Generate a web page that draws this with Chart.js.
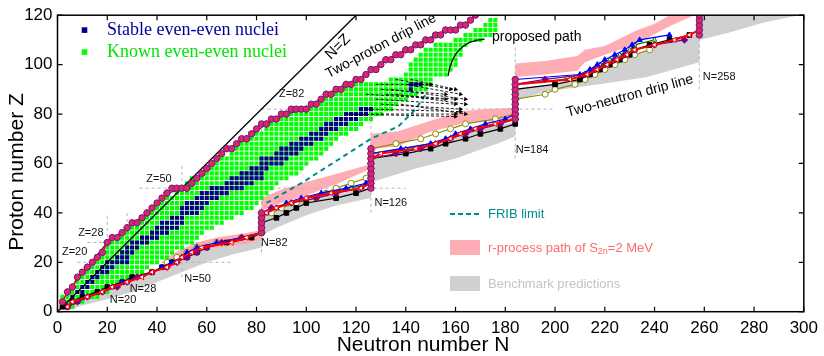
<!DOCTYPE html>
<html>
<head>
<meta charset="utf-8">
<script src="https://cdn.jsdelivr.net/npm/chart.js@4.4.1/dist/chart.umd.min.js"></script>
<style>
  html, body { margin: 0; padding: 0; background: #fff; }
  canvas { display: block; }
</style>
</head>
<body>
<canvas id="nucChart" width="824" height="356"></canvas>
<script>
// Known even-even nuclei: N range for each even Z
const knownZ   = [2,4,6,8,10,12,14,16,18,20,22,24,26,28,30,32,34,36,38,40,42,44,46,48,50,52,54,56,58,60,62,64,66,68,70,72,74,76,78,80,82,84,86,88,90,92,94,96,98,100,102,104,106,108,110,112,114,116,118];
const knownMin = [2,2,2,4,6,8,8,10,12,14,16,18,20,20,24,26,30,32,34,38,40,42,44,48,50,52,54,58,62,64,66,70,72,74,78,80,84,86,88,92,96,102,106,112,116,120,134,140,142,142,144,146,148,152,160,164,168,172,174];
const knownMax = [6,10,16,20,24,28,30,34,36,40,44,46,50,54,56,58,62,66,70,74,78,80,82,84,86,88,92,96,98,100,104,106,108,110,112,116,120,122,126,130,134,136,140,144,148,150,150,156,158,160,160,162,162,164,170,174,176,176,176];

// Stable even-even nuclei
const stableZ   = [2,6,8,10,12,14,16,18,20,22,24,26,28,30,32,34,36,38,40,42,44,46,48,50,52,54,56,58,60,62,64,66,68,70,72,74,76,78,80,82,90,92];
const stableMin = [2,6,8,10,12,14,16,18,20,24,26,28,30,34,38,40,42,46,50,50,52,56,58,62,68,70,74,78,82,82,88,90,94,98,102,106,108,112,116,122,142,142];
const stableMax = [2,6,10,12,14,16,20,22,28,28,30,32,36,40,44,48,50,50,56,58,60,64,68,74,78,82,82,84,90,92,96,98,102,106,108,112,116,120,124,126,142,146];

// Two-neutron drip lines, N for each even Z (null = not computed)
const dripZ = [2,4,6,8,10,12,14,16,18,20,22,24,26,28,30,32,34,36,38,40,42,44,46,48,50,52,54,56,58,60,62,64,66,68,70,72,74,76,78,80,82,84,86,88,90,92,94,96,98,100,102,104,106,108,110,112,114,116,118,120];
const nRed    = [4,6,12,18,22,28,34,38,44,48, 50,54,58,70,76,82,82,82,82,84, 88,94,100,110,122,126,126,126,126,126, 126,130,144,152,158,162,168,176,184,184, 184,184,184,184,184,184,206,213,217,221, 225,229,232,240,248,254,258,258,258,258];
const nBlue   = [4,8,12,18,22,26,32,38,42,46, 50,52,56,64,74,82,82,82,82,84, 88,92,98,106,116,124,126,126,126,126, 126,126,138,150,156,160,166,172,180,184, 184,184,184,184,184,184,184,210,214,217, 220,224,228,231,234,246,null,null,null,null];
const nBlack  = [4,6,10,16,20,26,30,38,42,46, 52,56,60,68,78,82,82,82,88,92, 96,100,112,120,126,126,126,126,126,126, 126,140,150,156,164,170,178,184,184,184, 184,184,184,184,184,200,210,214,218,222, 226,230,232,238,246,254,258,258,258,258];
const nOlive  = [null,null,null,null,null,null,null,null,null,44, 48,52,56,64,74,82,82,82,82,86, 90,96,104,108,112,118,124,126,126,126, 126,126,126,136,146,152,158,164,176,184, 184,184,184,196,200,208,212,216,220,224, 228,232,238,null,null,null,null,null,null,null];
const nPurple = [4,8,12,18,24,28,32,38,44,48, 52,56,60,66,74,82,82,82,82,82, 86,94,104,112,122,126,126,126,126,126, 126,136,146,152,158,164,170,178,184,184, 184,184,184,184,184,184,196,212,216,220, 224,228,232,240,252,null,null,null,null,null];
const nGreen  = [4,8,12,18,22,28,32,38,42,48, 50,54,58,68,76,82,82,82,82,84, 88,94,100,108,118,126,126,126,126,126, 126,126,140,150,156,162,168,176,184,184, 184,184,184,184,184,184,204,210,214,218, 222,226,230,232,240,null,null,null,null,null];
const circN = [82,82,82,82,82, 126,126,126,126,126,126,126,126,126, 184,184,184,184,184,184,184,184,184, 258,258,258,258,258];
const circZ = [32,34,36,38,40, 50,52,54,56,58,60,62,64,66, 78,80,82,84,86,88,90,92,94, 112,114,116,118,120];

// Two-proton drip line
const pDripN = [2,4,6,8,10,12,14,16,18,20,22,24,26,28,30,32,34,36,38,40,42,44,46,48,50,52,54,56,58,60,62,64,66,68,70,72,74,76,78,80,82,84,86,88,90,92,94,96,98,100,102,104,106,108,110,112,114,116,118,120,122,124,126,128,130,132,134,136,138,140,142,144,146,148,150,152,154,156,158,160,162,164,166,168];
const pDripZ = [4,8,10,14,16,18,20,22,24,28,30,30,32,34,36,36,38,40,42,44,46,48,50,50,50,50,52,54,56,58,60,62,64,66,66,68,70,70,72,74,76,76,78,78,80,80,82,82,82,82,84,84,86,88,88,90,90,92,92,94,94,96,98,98,100,102,102,104,104,106,106,108,108,110,110,112,112,114,114,114,116,116,118,120];
const pStarN = [4,12,20,28,36,44,52,60,68,76,84,92,100,108,116,124,132,140,148,156,164];
const pStarZ = [8,18,28,34,40,48,50,58,66,70,76,80,82,88,92,96,102,106,110,114,116];
const pBlackN = [2,10,18,34,58,76,92,112,128,146,152];
const pBlackZ = [2,16,24,38,56,70,80,90,98,108,112];
const pBlueN = [16,22,60,98,118,142,158];
const pBlueZ = [22,30,58,82,92,106,114];

// Bands
const greyN = [2,12,20,30,40,50,58,70,80,82,82,90,100,112,124,126,126,140,152,166,178,184,184,196,208,216,230,246,256,258,258,300,300,298,284,270,258,258,237,224,196,186,184,184,178,160,144,128,126,126,112,100,88,84,82,82,70,60,50,40,30,20,10,4];
const greyZ = [2,6,9,12.5,16,20.5,25,27.5,31,32,40,42.5,45.5,47.5,50,51,63,63.5,67.5,73.5,75.5,77,90,91.5,93,96.5,103.5,109.5,112,113,120,120,120,120,117,113,110,101,95,93,89,86,84,71,68.5,62,58,53,52,46,43,39,34,32,30,26,23,20,16,12,8,5,2.5,0.5];
const pinkN = [44,50,56,64,74,82,82,90,100,113,125,126,137,149,162,172,184,184,196,209,212,220,232,240,246,256,246,232,220,212,209,196,184,184,170,162,149,137,128,126,113,100,90,82,82,74,64,56,50,44];
const pinkZ = [22,25.5,28,30,31.5,33,46,49.5,52.5,56,59.5,72,73,77,81,82,82.5,100.5,101.5,103.5,106,107.5,113.5,116.5,120,120,115.5,108,104,101,97.5,96,95,77,77,76,72.5,67,66,58,52,47,44,41,29,27,26,24,21.5,20];

// FRIB limit
const fribN = [84,98,112,126,137,144,148];
const fribZ = [44,52,61,70,75,82,88];

// Magic numbers
const magicZ = [20,28,50,82];
const magicZFromN = [8,12,33,82];
const magicZToN = [70,76,140,200];
const magicN = [20,28,50,82,126,184,258];
const magicNFromZ = [6,12,14,24,40,62,90];
const magicNToZ = [40,40,59,76,90,107,120];
const magicLabels = ['Z=20','Z=28','Z=50','Z=82','N=20','N=28','N=50','N=82','N=126','N=184','N=258'];
const magicLabelN = [1.8,8.3,35.7,89,21,29,51,81.8,127.4,184.2,259.4];
const magicLabelZ = [24,32,53.8,88,4.7,9.4,13.4,28,43.9,65.5,95];

// Proposed path arrows
const arrowN0 = [128,130,132,128,130,124,126,136,140,134,116,136,142,124,138];
const arrowZ0 = [92,90,88,86,84,82,80,94,92,90,80,88,94,88,84];
const arrowN1 = [150,156,160,160,162,162,160,158,162,164,160,164,160,156,164];
const arrowZ1 = [92,88,86,84,82,81,80,90,88,86,79,84,90,86,80];
const curveN = [171.7,159,157];
const curveZ = [110.3,109.5,95.4];

const FONT = '"Liberation Sans", Arial, sans-serif';

function pairs(ns, zs) {
    return ns.map((n, i) => ({ x: n, y: zs[i] }));
}
function dripPts(ns) {
    return ns.map((n, i) => n == null ? null : { x: n, y: dripZ[i] }).filter(p => p);
}
function rangePts(zs, mins, maxs) {
    const pts = [];
    zs.forEach((z, i) => {
        for (let n = mins[i]; n <= maxs[i]; n += 2) pts.push({ x: n, y: z });
    });
    return pts;
}

function lineSet(data, color, style, extra) {
    return Object.assign({
        data: data, showLine: true, borderColor: color, borderWidth: 1.2,
        pointStyle: style, pointRadius: 3, pointBackgroundColor: color,
        pointBorderColor: color, pointBorderWidth: 1
    }, extra || {});
}

const datasets = [];

datasets.push({ data: pairs(greyN, greyZ), showLine: true, fill: 'shape', backgroundColor: '#d0d0d0', borderWidth: 0, pointRadius: 0, order: 100 });
datasets.push({ data: pairs(pinkN, pinkZ), showLine: true, fill: 'shape', backgroundColor: '#ffadb5', borderWidth: 0, pointRadius: 0, order: 95 });

magicZ.forEach((z, i) => datasets.push({
    data: [{ x: magicZFromN[i], y: z }, { x: magicZToN[i], y: z }], showLine: true,
    borderColor: '#b4b4b4', borderWidth: 1, borderDash: [3, 3], pointRadius: 0, order: 90
}));
magicN.forEach((n, i) => datasets.push({
    data: [{ x: n, y: magicNFromZ[i] }, { x: n, y: magicNToZ[i] }], showLine: true,
    borderColor: '#b4b4b4', borderWidth: 1, borderDash: [3, 3], pointRadius: 0, order: 90
}));

datasets.push({ data: rangePts(knownZ, knownMin, knownMax), pointStyle: 'rect', pointRadius: 2.9, pointBackgroundColor: '#00ff00', pointBorderWidth: 0, order: 85 });
datasets.push({ data: rangePts(stableZ, stableMin, stableMax), pointStyle: 'rect', pointRadius: 2.9, pointBackgroundColor: '#000080', pointBorderWidth: 0, order: 80 });

datasets.push({ data: [{ x: 0, y: 0 }, { x: 120, y: 120 }], showLine: true, borderColor: '#000', borderWidth: 1.3, pointRadius: 0, order: 75 });
datasets.push({ data: pairs(fribN, fribZ), showLine: true, borderColor: '#008b8b', borderWidth: 2, borderDash: [5, 4], pointRadius: 0, order: 70 });

arrowN0.forEach((n, i) => {
    const dx = arrowN1[i] - n, dz = arrowZ1[i] - arrowZ0[i];
    datasets.push({
        data: [{ x: n, y: arrowZ0[i] }, { x: arrowN1[i], y: arrowZ1[i] }], showLine: true,
        borderColor: '#000', borderWidth: 0.9, borderDash: [3, 2],
        pointStyle: 'triangle', pointRadius: [0, 2.6], pointRotation: Math.atan2(dx, dz) * 180 / Math.PI,
        pointBackgroundColor: '#000', pointBorderWidth: 0, order: 65
    });
});

// neutron side models
datasets.push(lineSet(dripPts(nOlive), '#8b8b00', 'circle', { pointBackgroundColor: '#fff', order: 40 }));
datasets.push(lineSet(dripPts(nGreen), '#008000', 'triangle', { pointBackgroundColor: '#fff', pointRadius: 2.5, order: 38 }));
datasets.push(lineSet(dripPts(nBlack), '#000000', 'rect', { pointRadius: 3.3, order: 36 }));
datasets.push(lineSet(dripPts(nBlue), '#0000ff', 'triangle', { order: 34 }));
datasets.push(lineSet(dripPts(nPurple), '#800080', 'rectRot', { pointRadius: 3.3, order: 32 }));
datasets.push(lineSet(dripPts(nRed), '#ff0000', 'triangle', { borderWidth: 2, pointBackgroundColor: '#fff', pointRotation: -90, order: 30 }));
datasets.push({ data: pairs(circN, circZ), pointStyle: 'circle', pointRadius: 3.2, pointBackgroundColor: '#d8286a', pointBorderColor: '#7a1a7a', pointBorderWidth: 1, order: 20 });

// proton side
datasets.push(lineSet(pairs(pBlueN, pBlueZ), '#0000ff', 'triangle', { showLine: false, order: 28 }));
datasets.push(lineSet(pairs(pBlackN, pBlackZ), '#000000', 'rect', { showLine: false, pointRadius: 3.3, order: 26 }));
datasets.push(lineSet(pairs(pStarN, pStarZ), '#800080', 'rectRot', { pointRadius: 3.5, order: 24 }));
datasets.push(lineSet(pairs(pDripN, pDripZ), '#ff0000', 'circle', { borderWidth: 1.5, pointRadius: 3.2, pointBackgroundColor: '#d8286a', pointBorderColor: '#7a1a7a', order: 22 }));

const decorPlugin = {
    id: 'decor',
    afterDraw(chart) {
        const { ctx, chartArea: a, scales: { x, y } } = chart;
        const px = n => x.getPixelForValue(n);
        const py = z => y.getPixelForValue(z);
        ctx.save();

        // frame and inward ticks
        ctx.strokeStyle = '#000';
        ctx.lineWidth = 1.5;
        ctx.strokeRect(a.left, a.top, a.right - a.left, a.bottom - a.top);
        ctx.lineWidth = 1.2;
        ctx.beginPath();
        x.ticks.forEach(t => {
            const p = px(t.value);
            ctx.moveTo(p, a.bottom); ctx.lineTo(p, a.bottom - 5);
            ctx.moveTo(p, a.top); ctx.lineTo(p, a.top + 5);
        });
        y.ticks.forEach(t => {
            const p = py(t.value);
            ctx.moveTo(a.left, p); ctx.lineTo(a.left + 5, p);
            ctx.moveTo(a.right, p); ctx.lineTo(a.right - 5, p);
        });
        ctx.stroke();

        // axis titles
        ctx.fillStyle = '#000';
        ctx.font = '21px ' + FONT;
        ctx.textAlign = 'center';
        ctx.textBaseline = 'middle';
        ctx.fillText('Neutron number N', 423, 345);
        ctx.save();
        ctx.translate(17, 172);
        ctx.rotate(-Math.PI / 2);
        ctx.fillText('Proton number Z', 0, 0);
        ctx.restore();

        // magic number labels
        ctx.font = '11px ' + FONT;
        ctx.textAlign = 'left';
        ctx.fillStyle = '#111';
        magicLabels.forEach((t, i) => ctx.fillText(t, px(magicLabelN[i]), py(magicLabelZ[i])));

        // rotated texts
        const rot = (txt, cx, cy, deg, size) => {
            ctx.save();
            ctx.translate(cx, cy);
            ctx.rotate(deg * Math.PI / 180);
            ctx.font = size + 'px ' + FONT;
            ctx.textAlign = 'center';
            ctx.fillStyle = '#000';
            ctx.fillText(txt, 0, 0);
            ctx.restore();
        };
        rot('N=Z', 338, 47, -45, 15);
        rot('Two-proton drip line', 381, 46, -28, 14);
        rot('Two-neutron drip line', 630, 96, -15, 14);

        ctx.font = '14px ' + FONT;
        ctx.textAlign = 'left';
        ctx.fillStyle = '#000';
        ctx.fillText('proposed path', 492, 37);
        ctx.beginPath();
        ctx.lineWidth = 1.2;
        ctx.moveTo(px(curveN[0]), py(curveZ[0]));
        ctx.quadraticCurveTo(px(curveN[1]), py(curveZ[1]), px(curveN[2]), py(curveZ[2]));
        ctx.stroke();

        // top-left legend
        ctx.fillStyle = '#000080';
        ctx.fillRect(81.7, 27.3, 5.6, 5.6);
        ctx.fillStyle = '#00ff00';
        ctx.fillRect(81.7, 49.3, 5.6, 5.6);
        ctx.font = '18px "Liberation Serif", "Times New Roman", serif';
        ctx.fillStyle = '#0000a0';
        ctx.fillText('Stable even-even nuclei', 107, 30);
        ctx.fillStyle = '#00e600';
        ctx.fillText('Known even-even nuclei', 107, 52);

        // bottom-right legend
        ctx.strokeStyle = '#008b8b';
        ctx.lineWidth = 2;
        ctx.setLineDash([5, 3]);
        ctx.beginPath();
        ctx.moveTo(450, 214); ctx.lineTo(479, 214);
        ctx.stroke();
        ctx.setLineDash([]);
        ctx.fillStyle = '#ffadb5';
        ctx.fillRect(450, 240, 30, 15);
        ctx.fillStyle = '#d0d0d0';
        ctx.fillRect(450, 276, 30, 15);
        ctx.font = '13px ' + FONT;
        ctx.fillStyle = '#008b8b';
        ctx.fillText('FRIB limit', 488, 214);
        ctx.fillStyle = '#ff6a6a';
        const s1 = 'r-process path of S';
        ctx.fillText(s1, 488, 248);
        let w = ctx.measureText(s1).width;
        ctx.font = '9px ' + FONT;
        ctx.fillText('2n', 488 + w, 252);
        w += ctx.measureText('2n').width;
        ctx.font = '13px ' + FONT;
        ctx.fillText('=2 MeV', 488 + w, 248);
        ctx.fillStyle = '#c4c4c4';
        ctx.fillText('Benchmark predictions', 488, 284);

        ctx.restore();
    }
};

new Chart(document.getElementById('nucChart').getContext('2d'), {
    type: 'scatter',
    data: { datasets: datasets },
    options: {
        responsive: false,
        animation: false,
        events: [],
        layout: { padding: { left: 0, right: 16.5, top: 11.7, bottom: 0 } },
        plugins: {
            legend: { display: false },
            tooltip: { enabled: false }
        },
        scales: {
            x: {
                type: 'linear', min: 0, max: 300,
                grid: { display: false, drawTicks: false },
                border: { display: false },
                ticks: { stepSize: 20, padding: 6, color: '#000', maxRotation: 0, autoSkip: false, font: { family: FONT, size: 17 } },
                afterFit: s => { s.height = 44.3; }
            },
            y: {
                type: 'linear', min: 0, max: 120,
                grid: { display: false, drawTicks: false },
                border: { display: false },
                ticks: { stepSize: 20, padding: 5, color: '#000', font: { family: FONT, size: 17 } },
                afterFit: s => { s.width = 57.5; }
            }
        }
    },
    plugins: [decorPlugin]
});
</script>
</body>
</html>
